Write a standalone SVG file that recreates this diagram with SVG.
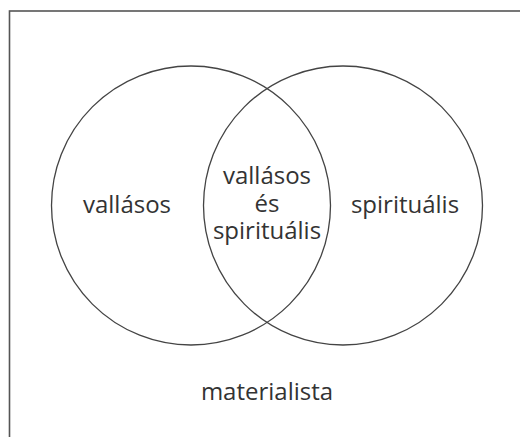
<svg xmlns="http://www.w3.org/2000/svg" width="520" height="437" viewBox="0 0 520 437">
<style>
.c{fill:none;stroke:#444;stroke-width:1.3}
.t{font-family:"Open Sans","Noto Sans",sans-serif;font-size:24px;fill:#333;text-anchor:middle}
</style>
<rect x="0" y="0" width="520" height="437" fill="#fff"/>
<rect x="9.5" y="11" width="530" height="450" fill="none" stroke="#555" stroke-width="1.6"/>
<g id="religious"><circle class="c" cx="191" cy="205.5" r="139.5"/><text class="t" x="127" y="213">vallásos</text></g>
<g id="spiritual"><circle class="c" cx="343" cy="205.5" r="139.5"/><text class="t" x="405" y="213">spirituális</text></g>
<g id="both"><text class="t" x="267" y="184">vallásos</text><text class="t" x="267" y="212">és</text><text class="t" x="267" y="239">spirituális</text></g>
<g id="materialist"><text class="t" x="267" y="400">materialista</text></g>
<g id="connectors"/>
</svg>
